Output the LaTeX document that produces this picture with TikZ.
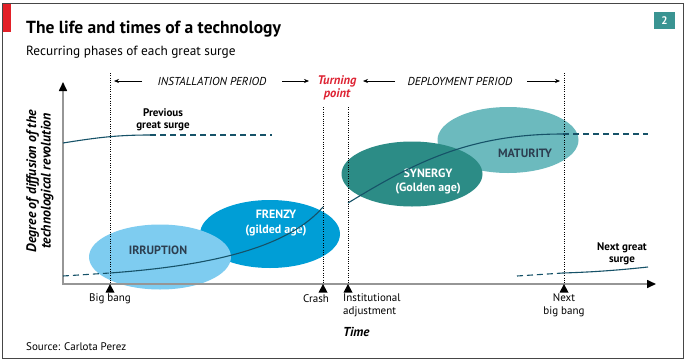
\documentclass[tikz,border=0pt]{standalone}
\usepackage{fontspec}
\setmainfont{PT Sans}
\usetikzlibrary{arrows.meta,shapes.geometric}
\definecolor{framegray}{RGB}{70,70,70}
\definecolor{ecored}{RGB}{226,32,40}
\definecolor{turnred}{RGB}{222,36,52}
\definecolor{numteal}{RGB}{58,148,146}
\definecolor{irrblue}{RGB}{126,204,240}
\definecolor{frzblue}{RGB}{0,158,214}
\definecolor{synteal}{RGB}{44,140,134}
\definecolor{matteal}{RGB}{108,186,190}
\definecolor{curvecol}{RGB}{22,82,104}
\definecolor{darktxt}{RGB}{44,62,80}
\definecolor{axisgray}{RGB}{150,150,150}
\tikzset{
  txt/.style={inner sep=0pt, font=\fontsize{11}{13}\selectfont},
  hdr/.style={inner sep=0pt, font=\fontsize{11.5}{13}\selectfont\itshape},
  blob/.style={ellipse, inner sep=0pt, draw=none},
  dotline/.style={line width=0.9pt, dash pattern=on 0.9pt off 1.4pt},
  curve/.style={curvecol, line width=1.1pt},
  dcurve/.style={curvecol, line width=1.1pt, dash pattern=on 6pt off 4pt},
  axisline/.style={axisgray, line width=1.6pt},
  hdrarrow/.style={line width=0.6pt, -{Stealth[length=5pt,width=4pt]}},
  tickmark/.style={fill=black, draw=none}
}
\begin{document}
\begin{tikzpicture}[x=1pt,y=-1pt]
\useasboundingbox (0,0) rectangle (686,362);
\fill[white] (0,0) rectangle (686,362);
% frame and header
\draw[framegray, line width=1pt] (2.5,3) rectangle (683,358);
\fill[ecored] (3,3.5) rectangle (11,32);
\node[inner sep=0pt, anchor=base west, font=\fontsize{17.5}{20}\selectfont\bfseries] (title) at (26,33) {The life and times of a technology};
\node[inner sep=0pt, anchor=base west, font=\fontsize{13.3}{15}\selectfont] (subtitle) at (26,55) {Recurring phases of each great surge};
\node[fill=numteal, text=white, inner sep=0pt, minimum width=21pt, minimum height=17pt, font=\fontsize{11}{13}\selectfont\bfseries] (num) at (664.5,20.5) {2};

% period header
\node[hdr] (inst) at (212,81) {INSTALLATION PERIOD};
\node[hdr] (depl) at (460,81) {DEPLOYMENT PERIOD};
\node[inner sep=0pt, align=center, text=turnred, font=\fontsize{12.5}{12.5}\selectfont\bfseries\itshape] (turn) at (337,88) {Turning\\point};
\coordinate (ia1) at (142,81); \coordinate (ia2) at (114,81);
\coordinate (ia3) at (282,81); \coordinate (ia4) at (309,81);
\coordinate (da1) at (395,81); \coordinate (da2) at (363,81);
\coordinate (da3) at (527,81); \coordinate (da4) at (560,81);
\draw[hdrarrow] (ia1) -- (ia2);
\draw[hdrarrow] (ia3) -- (ia4);
\draw[hdrarrow] (da1) -- (da2);
\draw[hdrarrow] (da3) -- (da4);

% ellipses
\node[blob, fill=frzblue, minimum width=140pt, minimum height=68pt] (frenzy) at (270,234) {};
\node[blob, fill=irrblue, minimum width=142pt, minimum height=65pt] (irr) at (160,257) {};
\node[blob, fill=matteal, minimum width=141pt, minimum height=66pt] (mat) at (508,140) {};
\node[blob, fill=synteal, minimum width=141pt, minimum height=65pt] (syn) at (412,174) {};
\node[inner sep=0pt, text=darktxt, font=\fontsize{12}{14}\selectfont\bfseries] (irrtxt) at (158,250) {IRRUPTION};
\node[inner sep=0pt, text=white, align=center, font=\fontsize{12}{15}\selectfont\bfseries] (frztxt) at (276,223) {FRENZY\\(gilded age)};
\node[inner sep=0pt, text=white, align=center, font=\fontsize{12}{14}\selectfont\bfseries] (syntxt) at (428,182) {SYNERGY\\(Golden age)};
\node[inner sep=0pt, text=darktxt, font=\fontsize{12}{14}\selectfont\bfseries] (mattxt) at (525,153) {MATURITY};

% dotted verticals
\coordinate (bbtop) at (110,73); \coordinate (bbbot) at (110,284);
\coordinate (crtop) at (323,107); \coordinate (crbot) at (323,284);
\coordinate (iatop) at (348,107); \coordinate (iabot) at (348,284);
\coordinate (nbtop) at (564,73); \coordinate (nbbot) at (564,284);
\draw[dotline] (bbtop) -- (bbbot);
\draw[dotline] (crtop) -- (crbot);
\draw[dotline] (iatop) -- (iabot);
\draw[dotline] (nbtop) -- (nbbot);

% axes
\coordinate (origin) at (63,285);
\coordinate (ytip) at (63,82);
\coordinate (xorig) at (63,284);
\coordinate (xtip) at (656,284);
\draw[axisline, -{Triangle[color=black,length=9pt,width=8pt]}] (origin) -- (ytip);
\draw[axisline, -{Triangle[color=black,length=9pt,width=8pt]}] (xorig) -- (xtip);

% ticks
\foreach \tx in {110,323,348,564}{
  \fill[tickmark] (\tx,284) -- (\tx+4.5,292.5) -- (\tx-4.5,292.5) -- cycle;
}

% axis labels
\node[txt] (bigbang) at (110,299) {Big bang};
\node[txt] (crash) at (316,299) {Crash};
\node[txt, anchor=west, align=left] (instadj) at (343,305.5) {Institutional\\adjustment};
\node[txt, align=center] (nextbb) at (564,305.5) {Next\\big bang};
\node[inner sep=0pt, anchor=west, font=\fontsize{13}{15}\selectfont\bfseries\itshape] (time) at (343,332) {Time};
\node[inner sep=0pt, anchor=west, font=\fontsize{11}{13}\selectfont] (source) at (26,347) {Source: Carlota Perez};
\node[inner sep=0pt, rotate=90, align=center, font=\fontsize{13.8}{14.5}\selectfont\bfseries\itshape] (ylab) at (40,181) {Degree of diffusion of the\\technological revolution};

% surge labels
\node[inner sep=0pt, align=center, font=\fontsize{11}{12}\selectfont\bfseries] (prevtxt) at (163,120) {Previous\\great surge};
\node[inner sep=0pt, align=center, font=\fontsize{11}{12}\selectfont\bfseries] (nexttxt) at (622,254) {Next great\\surge};

% curves
\coordinate (p0) at (63,143); \coordinate (p1) at (150,135); \coordinate (p2) at (272,135);
\draw[curve] (p0) .. controls (100,137) and (120,135) .. (p1);
\draw[dcurve] (p1) -- (p2);
\coordinate (m0) at (63,276); \coordinate (m1) at (110,273); \coordinate (m2) at (323,207);
\draw[dcurve] (m0) -- (m1);
\draw[curve] (m1) .. controls (220,265) and (290,245) .. (m2);
\coordinate (s0) at (348,203); \coordinate (s1) at (563,134); \coordinate (s2) at (648,134);
\draw[curve] (s0) .. controls (415,162) and (470,134) .. (s1);
\draw[dcurve] (s1) -- (s2);
\coordinate (n0) at (517,276); \coordinate (n1) at (563,273); \coordinate (n2) at (648,267);
\draw[dcurve] (n0) -- (n1);
\draw[curve] (n1) .. controls (595,272) and (620,270) .. (n2);
\end{tikzpicture}
\end{document}
